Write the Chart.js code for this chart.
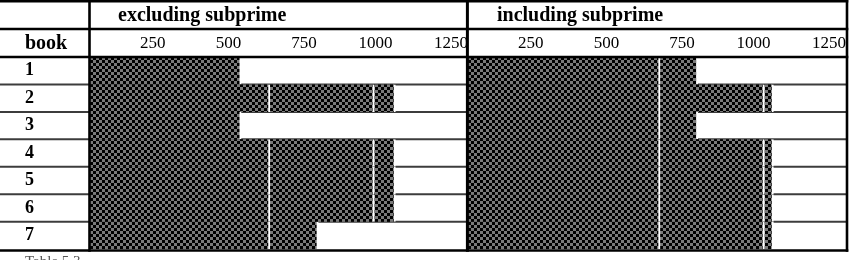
<!DOCTYPE html>
<html>
<head>
<meta charset="utf-8">
<script src="https://cdn.jsdelivr.net/npm/chart.js"></script>
<style>
  html, body { margin: 0; padding: 0; background: #fff; }
  #wrap { width: 852px; height: 260px; }
</style>
</head>
<body>
<div id="wrap"><canvas id="bookChart" width="852" height="260"></canvas></div>
<script>
const books = ['1', '2', '3', '4', '5', '6', '7'];
const tickValues = [250, 500, 750, 1000, 1250];
const tickLabels = ['250', '500', '750', '1000', '1250'];
const panelTitles = ['excluding subprime', 'including subprime'];
const rowHeader = 'book';
const caption = 'Table 5.3';

// excluding subprime: bar pieces, split by the white lines
const exclSeg1 = [500, 595, 500, 595, 595, 595, 595];
const exclSeg2 = [null, 345, null, 345, 345, 345, 160];
const exclSeg3 = [null, 70, null, 70, 70, 70, null];
// including subprime
const inclSeg1 = [635, 635, 635, 635, 635, 635, 635];
const inclSeg2 = [125, 345, 125, 345, 345, 345, 345];
const inclSeg3 = [null, 30, null, 30, 30, 30, 30];

const serif = 'Liberation Serif';
const canvas = document.getElementById('bookChart');
const ctx = canvas.getContext('2d');

// black / grey checker fill
function checker() {
  const c = document.createElement('canvas');
  c.width = 6; c.height = 6;
  const g = c.getContext('2d');
  g.fillStyle = '#7a7a7a';
  g.fillRect(0, 0, 6, 6);
  g.fillStyle = '#000';
  g.fillRect(0, 0, 3, 3);
  g.fillRect(3, 3, 3, 3);
  return ctx.createPattern(c, 'repeat');
}
const pattern = checker();

function seg(data, axis) {
  return {
    data: data,
    xAxisID: axis,
    stack: 'all',
    backgroundColor: pattern,
    borderColor: '#fff',
    borderWidth: { top: 0, right: 2, bottom: 0, left: 0 },
    borderSkipped: false,
    barPercentage: 1,
    categoryPercentage: 1
  };
}

function panelAxis() {
  return {
    type: 'linear',
    position: 'top',
    stack: 'panels',
    stacked: true,
    min: 0,
    max: 1250,
    grid: { display: false, drawTicks: false },
    border: { display: false },
    afterBuildTicks: s => { s.ticks = tickValues.map(v => ({ value: v })); },
    afterFit: s => { s.height = 55; },
    ticks: {
      align: 'end',
      maxRotation: 0,
      autoSkip: false,
      padding: 3,
      color: '#000',
      font: { family: serif, size: 17 },
      callback: (v, i) => tickLabels[i]
    }
  };
}

const tableLines = {
  id: 'tableLines',
  beforeDatasetsDraw(chart) {
    const c = chart.ctx, y = chart.scales.y;
    c.save();
    c.strokeStyle = '#3c3c3c';
    c.lineWidth = 2;
    for (let i = 1; i < books.length; i++) {
      const yy = (y.getPixelForValue(i - 1) + y.getPixelForValue(i)) / 2;
      c.beginPath();
      c.moveTo(0, yy);
      c.lineTo(847, yy);
      c.stroke();
    }
    c.restore();
  },
  afterDraw(chart) {
    const c = chart.ctx, a = chart.chartArea;
    const xL = chart.scales.xL, xR = chart.scales.xR;
    c.save();
    c.strokeStyle = '#000';
    c.lineWidth = 2.6;
    const hline = (yy) => { c.beginPath(); c.moveTo(0, yy); c.lineTo(848.3, yy); c.stroke(); };
    const vline = (xx, y0, y1) => { c.beginPath(); c.moveTo(xx, y0); c.lineTo(xx, y1); c.stroke(); };
    hline(1.3);
    hline(29);
    hline(a.top);
    hline(250.5);
    vline(a.left - 0.5, 0, 251.8);
    c.lineWidth = 3;
    vline(xR.left - 0.6, 0, 251.8);
    c.lineWidth = 2.6;
    vline(847, 0, 251.8);

    c.fillStyle = '#000';
    c.textBaseline = 'alphabetic';
    c.textAlign = 'left';
    c.font = 'bold 20px "' + serif + '"';
    c.fillText(panelTitles[0], xL.left + 28, 21);
    c.fillText(panelTitles[1], xR.left + 29, 21);
    c.fillText(rowHeader, 25, 48.5);

    c.fillStyle = '#555';
    c.font = '15px "' + serif + '"';
    c.textBaseline = 'top';
    c.fillText(caption, 25, 255);
    c.restore();
  }
};

new Chart(canvas, {
  type: 'bar',
  data: {
    labels: books,
    datasets: [
      seg(exclSeg1, 'xL'), seg(exclSeg2, 'xL'), seg(exclSeg3, 'xL'),
      seg(inclSeg1, 'xR'), seg(inclSeg2, 'xR'), seg(inclSeg3, 'xR')
    ]
  },
  options: {
    indexAxis: 'y',
    responsive: false,
    animation: false,
    layout: { padding: { top: 2, left: 25, right: 6, bottom: 10 } },
    plugins: { legend: { display: false }, tooltip: { enabled: false } },
    scales: {
      // top boxes of one stack are laid out last-first
      xR: panelAxis(),
      xL: panelAxis(),
      y: {
        type: 'category',
        stacked: true,
        grid: { display: false, drawTicks: false },
        border: { display: false },
        afterFit: s => { s.width = 65; },
        ticks: {
          crossAlign: 'far',
          padding: 0,
          color: '#000',
          font: { family: serif, size: 18, weight: 'bold' }
        }
      }
    }
  },
  plugins: [tableLines]
});
</script>
</body>
</html>
